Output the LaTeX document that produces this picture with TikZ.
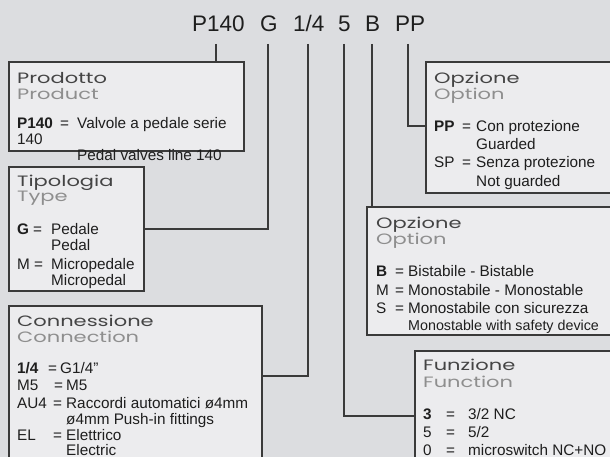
\documentclass[tikz,border=0pt]{standalone}
\usepackage{fontspec}
\setmainfont{Liberation Sans}
\newfontfamily\headfont[FakeStretch=1.4]{Poppins}
\definecolor{bg}{HTML}{DCDDE0}
\definecolor{boxfill}{HTML}{ECECEE}
\definecolor{ln}{HTML}{3A3A3A}
\definecolor{hd}{HTML}{444444}
\definecolor{sub}{HTML}{8E8E8E}
\definecolor{tx}{HTML}{1E1E1E}
\begin{document}
\begin{tikzpicture}[x=1pt,y=-1pt,
  box/.style={draw=ln, line width=1.2pt, fill=boxfill, anchor=north west, inner sep=0pt, outer sep=0pt},
  conn/.style={draw=ln, line width=1.2pt},
  txt/.style={anchor=base west, inner sep=0pt, font=\fontsize{15.3}{17}\selectfont, text=tx},
  small/.style={txt, font=\fontsize{14.3}{17}\selectfont},
  head/.style={anchor=base west, inner sep=0pt, font=\headfont\fontsize{15}{17}\selectfont, text=hd},
  subh/.style={head, text=sub},
  code/.style={anchor=base west, inner sep=0pt, font=\fontsize{22.5}{26}\selectfont, text=tx}]
\fill[bg] (0,0) rectangle (610,457);
\useasboundingbox (0,0) rectangle (610,457);

% code line
\node[code] (cP) at (192,32) {P140};
\node[code] (cG) at (260,32) {G};
\node[code] (cQ) at (293,32) {1/4};
\node[code] (cF) at (338,32) {5};
\node[code] (cB) at (365,32) {B};
\node[code] (cO) at (395,32) {PP};

% boxes
\node[box, minimum width=235pt, minimum height=89pt] (prod) at (9,62) {};
\node[box, minimum width=135pt, minimum height=124pt] (typ) at (9,167) {};
\node[box, minimum width=253pt, minimum height=160pt] (con) at (9,306) {};
\node[box, minimum width=200pt, minimum height=131pt] (opp) at (426,62) {};
\node[box, minimum width=250pt, minimum height=128pt] (obb) at (367,207) {};
\node[box, minimum width=210pt, minimum height=120pt] (fun) at (415,351) {};

% connector anchors
\coordinate (tP) at (216,44);
\coordinate (tG) at (268,44);
\coordinate (tQ) at (308,44);
\coordinate (tF) at (344,44);
\coordinate (tB) at (372,44);
\coordinate (tO) at (408,44);
\coordinate (eG) at (144,229);
\coordinate (eQ) at (262,376);
\coordinate (eF) at (415,416);
\coordinate (eO) at (426,126);

\draw[conn] (tP) -- (tP |- prod.north);
\draw[conn] (tG) |- (eG);
\draw[conn] (tQ) |- (eQ);
\draw[conn] (tF) |- (eF);
\draw[conn] (tB) -- (tB |- obb.north);
\draw[conn] (tO) |- (eO);

% Prodotto
\node[head] (h1) at (17,83.3) {Prodotto};
\node[subh] (s1) at (17,99.3) {Product};
\node[txt] (p1k) at (17,129) {\textbf{P140}};
\node[txt] (p1e) at (60,129) {=};
\node[txt] (p1v) at (77,129) {Valvole a pedale serie};
\node[txt] (p1w) at (17,144.5) {140};
\node[txt] (p1x) at (77,161) {Pedal valves line 140};

% Tipologia
\node[head] (h2) at (17,186) {Tipologia};
\node[subh] (s2) at (17,201.7) {Type};
\node[txt] (t1k) at (17,234) {\textbf{G}};
\node[txt] (t1e) at (33,234) {=};
\node[txt] (t1v) at (51,234) {Pedale};
\node[txt] (t1w) at (51,250) {Pedal};
\node[txt] (t2k) at (17,269) {M};
\node[txt] (t2e) at (34,269) {=};
\node[txt] (t2v) at (51,269) {Micropedale};
\node[txt] (t2w) at (51,285) {Micropedal};

% Connessione
\node[head] (h3) at (17,326) {Connessione};
\node[subh] (s3) at (17,342) {Connection};
\node[txt] (c1k) at (17,373) {\textbf{1/4}};
\node[txt] (c1e) at (48,373) {=};
\node[txt] (c1v) at (60,373) {G1/4”};
\node[txt] (c2k) at (17,390.5) {M5};
\node[txt] (c2e) at (54,390.5) {=};
\node[txt] (c2v) at (66,390.5) {M5};
\node[txt] (c3k) at (17,408.5) {AU4};
\node[txt] (c3e) at (53,408.5) {=};
\node[txt] (c3v) at (66,408.5) {Raccordi automatici ø4mm};
\node[txt] (c3w) at (66,424) {ø4mm Push-in fittings};
\node[txt] (c4k) at (17,440.5) {EL};
\node[txt] (c4e) at (53,440.5) {=};
\node[txt] (c4v) at (66,440.5) {Elettrico};
\node[txt] (c4w) at (66,455) {Electric};

% Opzione PP
\node[head] (h4) at (434,83.3) {Opzione};
\node[subh] (s4) at (434,99.3) {Option};
\node[txt] (o1k) at (434,131.5) {\textbf{PP}};
\node[txt] (o1e) at (462,131.5) {=};
\node[txt] (o1v) at (476,131.5) {Con protezione};
\node[txt] (o1w) at (476,149.5) {Guarded};
\node[txt] (o2k) at (434,168) {SP};
\node[txt] (o2e) at (462,168) {=};
\node[txt] (o2v) at (476,168) {Senza protezione};
\node[txt] (o2w) at (476,186) {Not guarded};

% Opzione B
\node[head] (h5) at (376,228) {Opzione};
\node[subh] (s5) at (376,244) {Option};
\node[txt] (b1k) at (376,276) {\textbf{B}};
\node[txt] (b1e) at (395,276) {=};
\node[txt] (b1v) at (408,276) {Bistabile - Bistable};
\node[txt] (b2k) at (376,295) {M};
\node[txt] (b2e) at (395,295) {=};
\node[txt] (b2v) at (408,295) {Monostabile - Monostable};
\node[txt] (b3k) at (376,313) {S};
\node[txt] (b3e) at (395,313) {=};
\node[txt] (b3v) at (408,313) {Monostabile con sicurezza};
\node[small] (b3w) at (408,330) {Monostable with safety device};

% Funzione
\node[head] (h6) at (423,370) {Funzione};
\node[subh] (s6) at (423,387) {Function};
\node[txt] (f1k) at (423,419) {\textbf{3}};
\node[txt] (f1e) at (446,419) {=};
\node[txt] (f1v) at (468,419) {3/2 NC};
\node[txt] (f2k) at (423,437.5) {5};
\node[txt] (f2e) at (446,437.5) {=};
\node[txt] (f2v) at (468,437.5) {5/2};
\node[txt] (f3k) at (423,455) {0};
\node[txt] (f3e) at (446,455) {=};
\node[txt] (f3v) at (468,455) {microswitch NC+NO};
\end{tikzpicture}
\end{document}
